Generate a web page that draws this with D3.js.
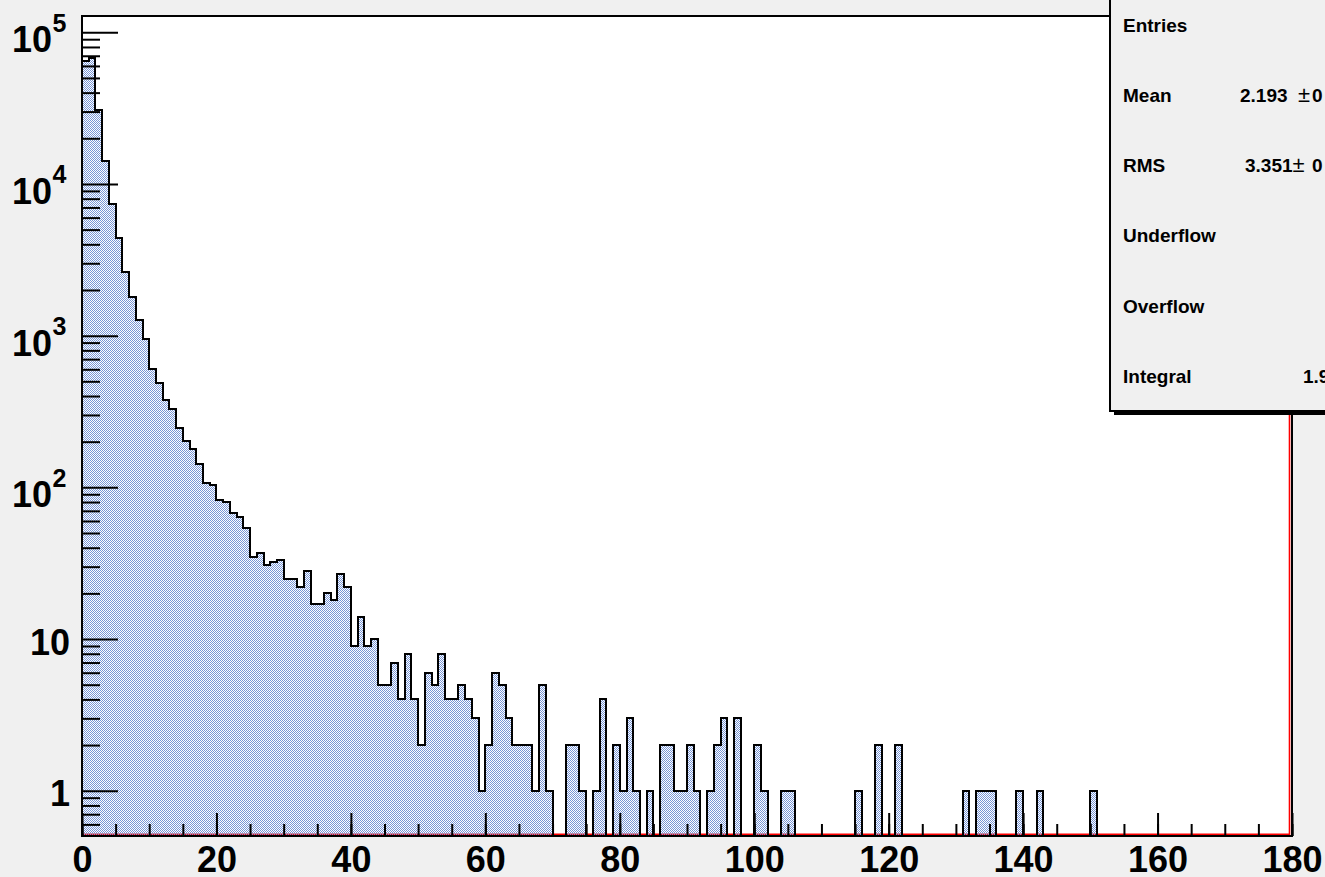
<!DOCTYPE html>
<html><head><meta charset="utf-8">
<script src="https://cdn.jsdelivr.net/npm/d3@7"></script>
<style>
html,body{margin:0;padding:0;background:#f0f0f0;overflow:hidden;}
svg{display:block;font-family:"Liberation Sans",Arial,Helvetica,sans-serif;}
</style></head><body>
<svg id="chart" width="1325" height="877"></svg>
<script>
// ---- data (bin width 1, range 0..180) ----
const binCounts = [
  64900, 67700, 30500, 14100, 7410, 4420, 2610, 1790, 1275, 955,
  607, 490, 375, 327, 248, 201, 179, 142, 107, 104,
  82, 80, 68, 64, 54, 35, 37, 31, 32, 33,
  25, 25, 22, 28, 17, 17, 20, 18, 27, 22,
  9, 14, 9, 10, 5, 5, 7, 4, 8, 4,
  2, 6, 5, 8, 4, 4, 5, 4, 3, 1,
  2, 6, 5, 3, 2, 2, 2, 1, 5, 1,
  0, 0, 2, 2, 1, 0, 1, 4, 0, 2,
  1, 3, 1, 0, 1, 0, 2, 2, 1, 1,
  2, 1, 0, 1, 2, 3, 0, 3, 0, 0,
  2, 1, 0, 0, 1, 1, 0, 0, 0, 0,
  0, 0, 0, 0, 0, 1, 0, 0, 2, 0,
  0, 2, 0, 0, 0, 0, 0, 0, 0, 0,
  0, 1, 0, 1, 1, 1, 0, 0, 0, 1,
  0, 0, 1, 0, 0, 0, 0, 0, 0, 0,
  1, 0, 0, 0, 0, 0, 0, 0, 0, 0,
  0, 0, 0, 0, 0, 0, 0, 0, 0, 0,
  0, 0, 0, 0, 0, 0, 0, 0, 0, 0
];
const xRange = [0, 180];
const yRange = [0.503, 1.28e5];
const xTickValues = [0, 20, 40, 60, 80, 100, 120, 140, 160, 180];
const xTickLabels = ["0", "20", "40", "60", "80", "100", "120", "140", "160", "180"];
const yTickValues = [1, 10, 100, 1000, 10000, 100000];
const yTickBase = ["1", "10", "10", "10", "10", "10"];
const yTickExp = ["", "", "2", "3", "4", "5"];
const statNames = ["Entries", "Mean", "RMS", "Underflow", "Overflow", "Integral"];
const statValues = ["", "2.193", "3.351", "", "", "1.9"];
const statErrors = ["", "0", "0", "", "", ""];

// ---- layout ----
const W = 1325, H = 877;
const L = 82, R = 1292, T = 16, B = 836;
const svg = d3.select("#chart");
svg.append("rect").attr("width", W).attr("height", H).attr("fill", "#f0f0f0");

const x = d3.scaleLinear().domain(xRange).range([L, R]);
const y = d3.scaleLog().domain(yRange).range([B, T]);

const defs = svg.append("defs");
const pat = defs.append("pattern").attr("id", "hatch")
  .attr("width", 2).attr("height", 2).attr("patternUnits", "userSpaceOnUse");
pat.append("rect").attr("x", 0).attr("y", 0).attr("width", 1).attr("height", 1).attr("fill", "#7896d6");
pat.append("rect").attr("x", 1).attr("y", 1).attr("width", 1).attr("height", 1).attr("fill", "#7896d6");
defs.append("clipPath").attr("id", "plotclip").append("rect")
  .attr("x", L).attr("y", T).attr("width", R - L).attr("height", B - T);

// plot background
svg.append("rect").attr("x", L).attr("y", T).attr("width", R - L).attr("height", B - T).attr("fill", "#ffffff");

// red line (zero function) drawn beneath the histogram
const redPts = [[xRange[0], yRange[0]], [xRange[1], yRange[0]], [xRange[1], yRange[1]]];
svg.append("path")
  .attr("d", d3.line().x(d => x(d[0]) - (d[0] === xRange[1] ? 2.5 : 0)).y(d => y(d[1]) - (d[1] === yRange[0] ? 1.7 : 0))(redPts))
  .attr("fill", "none").attr("stroke", "#ff0000").attr("stroke-width", 1.6);

// histogram
const pts = binCounts.map((c, i) => ({ x: xRange[0] + i, v: c }));
pts.push({ x: xRange[1], v: binCounts[binCounts.length - 1] });
const yv = v => (v > 0 ? y(v) : B);
const g = svg.append("g").attr("clip-path", "url(#plotclip)");
g.append("path")
  .attr("d", d3.area().curve(d3.curveStepAfter)
    .x(d => Math.round(x(d.x))).y0(B).y1(d => Math.round(yv(d.v)))(pts))
  .attr("fill", "url(#hatch)");
const linePts = [{ x: xRange[0], v: 0 }].concat(pts).concat([{ x: xRange[1], v: 0 }]);
g.append("path")
  .attr("d", d3.line().curve(d3.curveStepAfter)
    .x(d => Math.round(x(d.x))).y(d => Math.round(yv(d.v)))(linePts))
  .attr("fill", "none").attr("stroke", "#000").attr("stroke-width", 2);

// axes
const font = 36;
svg.append("g").attr("transform", `translate(0,${B})`)
  .call(d3.axisBottom(x).tickValues(d3.range(xRange[0], xRange[1] + 1, 5)).tickSize(-12).tickFormat(""))
  .call(s => s.select(".domain").remove())
  .call(s => s.selectAll("line").attr("stroke", "#000").attr("stroke-width", 2));
svg.append("g").attr("transform", `translate(0,${B})`)
  .call(d3.axisBottom(x).tickValues(xTickValues).tickSize(-23).tickFormat((d, i) => xTickLabels[i]))
  .call(s => s.select(".domain").remove())
  .call(s => s.selectAll("line").attr("stroke", "#000").attr("stroke-width", 2))
  .call(s => s.selectAll("text").attr("y", 36).attr("dy", null)
    .attr("font-size", font).attr("font-weight", "bold").attr("fill", "#000")
    .attr("font-family", '"Liberation Sans",Arial,Helvetica,sans-serif'));

const yMinor = [];
for (let n = -1; n <= 5; n++) for (let k = 2; k <= 9; k++) {
  const v = k * Math.pow(10, n);
  if (v > yRange[0] && v < yRange[1]) yMinor.push(v);
}
svg.append("g").attr("transform", `translate(${L},0)`)
  .call(d3.axisLeft(y).tickValues(yMinor).tickSize(-18).tickFormat(""))
  .call(s => s.select(".domain").remove())
  .call(s => s.selectAll("line").attr("stroke", "#000").attr("stroke-width", 2));
svg.append("g").attr("transform", `translate(${L},0)`)
  .call(d3.axisLeft(y).tickValues(yTickValues).tickSize(-36).tickFormat(""))
  .call(s => s.select(".domain").remove())
  .call(s => s.selectAll("line").attr("stroke", "#000").attr("stroke-width", 2));

// y labels
const yl = svg.append("g").attr("font-weight", "bold").attr("fill", "#000");
yTickValues.forEach((v, i) => {
  const ty = y(v);
  if (yTickExp[i] === "") {
    yl.append("text").attr("x", 70).attr("y", ty + 15.5).attr("text-anchor", "end")
      .attr("font-size", font).text(yTickBase[i]);
  } else {
    yl.append("text").attr("x", 52).attr("y", ty + 20).attr("text-anchor", "end")
      .attr("font-size", font).text(yTickBase[i]);
    yl.append("text").attr("x", 52.5).attr("y", ty - 0.5).attr("text-anchor", "start")
      .attr("font-size", 25).text(yTickExp[i]);
  }
});

// frame
svg.append("rect").attr("x", L).attr("y", T).attr("width", R - L).attr("height", B - T)
  .attr("fill", "none").attr("stroke", "#000").attr("stroke-width", 2);

// stats box
const bx = 1110, bTop = -10, bBot = 411;
svg.append("rect").attr("x", bx + 4).attr("y", bTop + 4).attr("width", 300).attr("height", bBot - bTop).attr("fill", "#000");
svg.append("rect").attr("x", bx).attr("y", bTop).attr("width", 300).attr("height", bBot - bTop)
  .attr("fill", "#f0f0f0").attr("stroke", "#000").attr("stroke-width", 2);
const rowH = (bBot - bTop) / statNames.length;
const sg = svg.append("g").attr("font-size", 19).attr("fill", "#000");
const valX = [0, 1240, 1245, 0, 0, 1303];
const pmX = [0, 1298, 1292.5, 0, 0, 0];
statNames.forEach((name, i) => {
  const by = bTop + rowH * (i + 0.5) + 6.8;
  sg.append("text").attr("x", 1123).attr("y", by).attr("font-weight", "bold").text(name);
  if (statValues[i]) sg.append("text").attr("x", valX[i]).attr("y", by).attr("font-weight", "bold").text(statValues[i]);
  if (statErrors[i]) {
    sg.append("text").attr("x", pmX[i]).attr("y", by).attr("font-size", 22).text("\u00b1");
    sg.append("text").attr("x", 1312).attr("y", by).attr("font-weight", "bold").text(statErrors[i]);
  }
});
</script>
</body></html>
